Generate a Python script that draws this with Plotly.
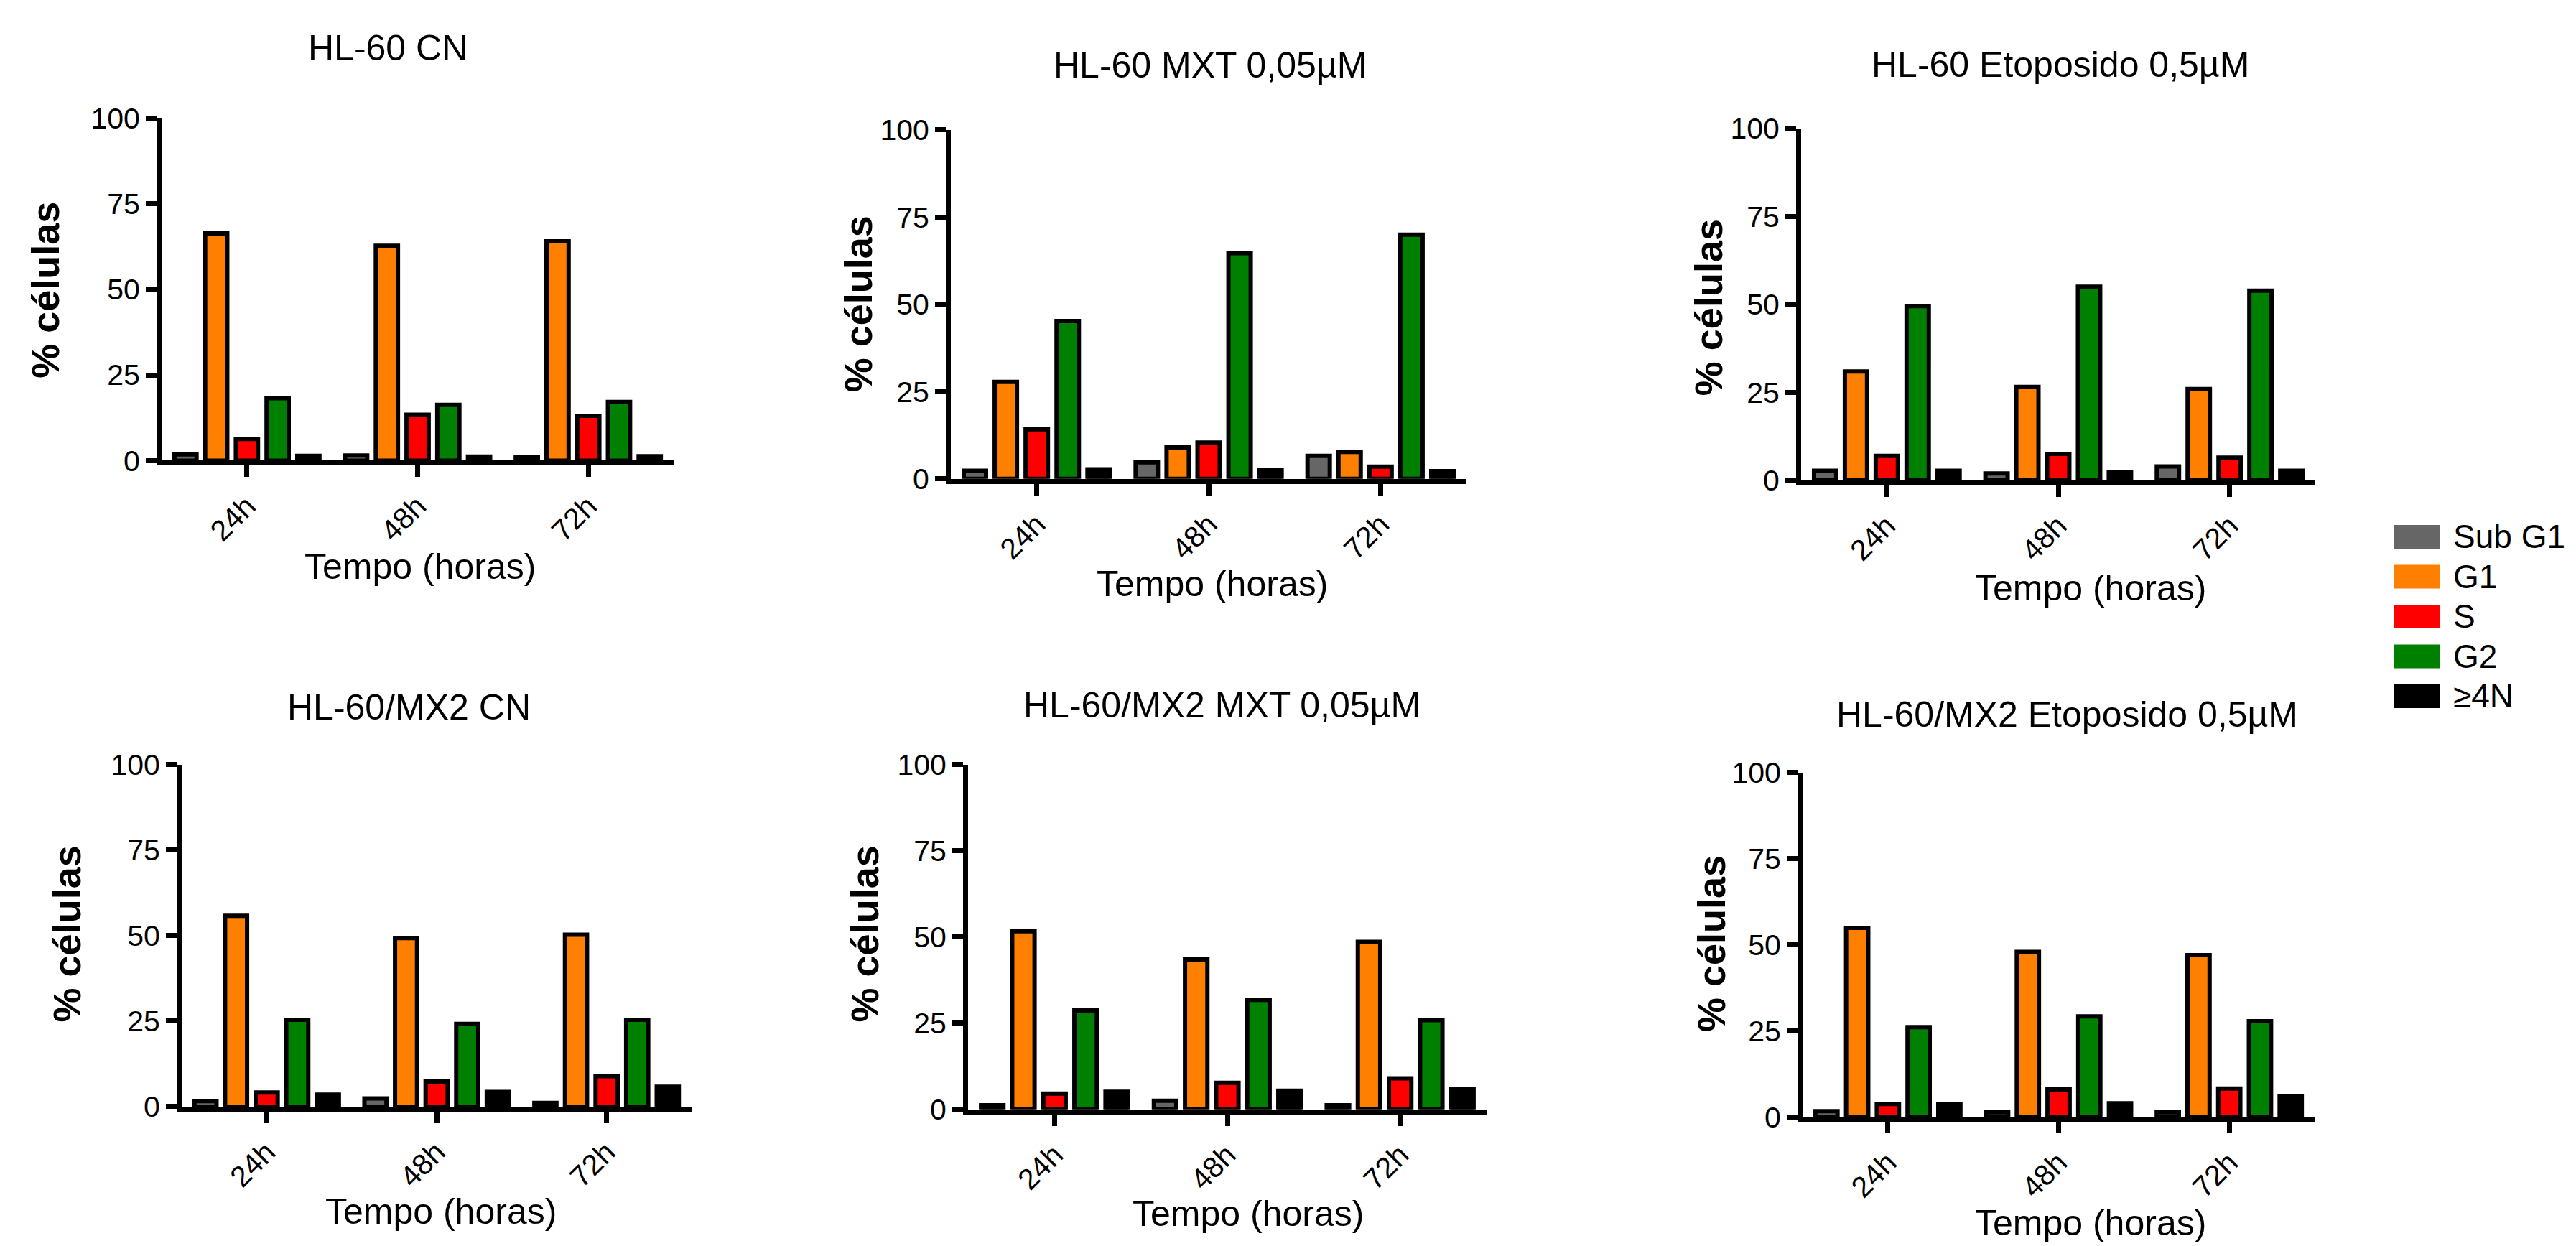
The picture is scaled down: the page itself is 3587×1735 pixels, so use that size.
import plotly.graph_objects as go

# ---------------- data ----------------
times = ["24h", "48h", "72h"]
phases = ["Sub G1", "G1", "S", "G2", "≥4N"]

# each list: rows = phases (Sub G1, G1, S, G2, ≥4N), cols = times (24h, 48h, 72h)
hl60_cn = [[1.8, 1.5, 1.0], [66.3, 62.7, 64.0], [6.3, 13.4, 13.1], [18.2, 16.3, 17.1], [1.4, 1.2, 1.3]]
hl60_mxt = [[2.3, 4.7, 6.6], [27.8, 9.0, 7.7], [14.2, 10.4, 3.5], [45.2, 64.7, 70.0], [2.7, 2.5, 2.2]]
hl60_eto = [[2.7, 1.9, 3.9], [30.9, 26.5, 25.9], [6.9, 7.5, 6.4], [49.5, 55.0, 53.9], [2.7, 2.2, 2.7]]
mx2_cn = [[1.6, 2.4, 1.1], [55.8, 49.3, 50.3], [4.1, 7.3, 8.9], [25.4, 24.2, 25.4], [3.5, 4.3, 5.8]]
mx2_mxt = [[1.2, 2.5, 1.2], [51.7, 43.5, 48.6], [4.6, 7.7, 9.0], [28.7, 31.8, 25.9], [5.1, 5.4, 5.9]]
mx2_eto = [[1.7, 1.4, 1.4], [54.9, 47.9, 47.0], [3.8, 8.0, 8.3], [26.1, 29.2, 27.8], [3.8, 4.0, 6.1]]

titles = ["HL-60 CN", "HL-60 MXT 0,05µM", "HL-60 Etoposido 0,5µM",
          "HL-60/MX2 CN", "HL-60/MX2 MXT 0,05µM", "HL-60/MX2 Etoposido 0,5µM"]
datasets = [hl60_cn, hl60_mxt, hl60_eto, mx2_cn, mx2_mxt, mx2_eto]
y_ticks = [0, 25, 50, 75, 100]
x_title = "Tempo (horas)"
y_title = "% células"

# ---------------- style / layout ----------------
W, H = 3587, 1735
colors = ["#666666", "#FF8000", "#FF0000", "#008000", "#000000"]
FONT = "Liberation Sans, Arial, Helvetica, sans-serif"

# plot boxes in pixels: x0, x1, ytop(100), ybottom(0)
boxes = [(217, 930, 137, 627), (1316, 2034, 154, 653), (2500, 3216, 152, 655),
         (245, 955, 1062, 1551), (1340, 2062, 1062, 1555), (2502, 3215, 1073, 1566)]
title_pos = [(532, 37), (1677, 62), (2861, 61), (561, 980), (1693, 977), (2870, 990)]
xtitle_pos = [(577, 779), (1680, 803), (2903, 809), (606, 1701), (1730, 1704), (2903, 1718)]
ytitle_pos = [(55, 383), (1187, 403), (2371, 408), (85, 1304), (1196, 1304), (2375, 1318)]


def px(x):
    return x / W


def py(y):
    return 1 - y / H


fig = go.Figure()
annotations = []
shapes = []
layout_axes = {}

for i, (data, title) in enumerate(zip(datasets, titles)):
    n = i + 1
    xref = "x" if n == 1 else f"x{n}"
    yref = "y" if n == 1 else f"y{n}"
    for s, phase in enumerate(phases):
        fig.add_trace(go.Bar(
            x=times, y=data[s], name=phase,
            marker=dict(color=colors[s], line=dict(color="black", width=6)),
            xaxis=xref, yaxis=yref, showlegend=False,
        ))
    x0, x1, yt, yb = boxes[i]
    xa = "xaxis" if n == 1 else f"xaxis{n}"
    ya = "yaxis" if n == 1 else f"yaxis{n}"
    layout_axes[xa] = dict(
        domain=[px(x0), px(x1)], anchor=yref, type="category", range=[-0.5, 2.5],
        showline=True, linecolor="black", linewidth=7,
        ticks="outside", ticklen=16, tickwidth=7, tickcolor="black",
        tickangle=-45, tickfont=dict(size=41, color="black", family=FONT),
        showgrid=False, zeroline=False,
    )
    layout_axes[ya] = dict(
        domain=[py(yb), py(yt)], anchor=xref, range=[0, 100],
        tickvals=y_ticks, ticktext=[str(v) for v in y_ticks],
        showline=True, linecolor="black", linewidth=7,
        ticks="outside", ticklen=15, tickwidth=7, tickcolor="black",
        tickfont=dict(size=41, color="black", family=FONT),
        showgrid=False, zeroline=False,
    )
    tx, ty = title_pos[i]
    annotations.append(dict(text=title, x=px(tx), y=py(ty), xref="paper", yref="paper",
                            xanchor="center", yanchor="middle", showarrow=False,
                            font=dict(size=50, color="black", family=FONT)))
    ax_, ay_ = xtitle_pos[i]
    annotations.append(dict(text=x_title, x=px(ax_), y=py(ay_), xref="paper", yref="paper",
                            xanchor="center", yanchor="middle", showarrow=False,
                            font=dict(size=50, color="black", family=FONT)))
    bx, by = ytitle_pos[i]
    annotations.append(dict(text=f"<b>{y_title}</b>", x=px(bx), y=py(by), xref="paper", yref="paper",
                            xanchor="center", yanchor="middle", showarrow=False, textangle=-90,
                            font=dict(size=54, color="black", family=FONT)))

# custom legend (coloured rectangles + labels)
leg_x0, leg_x1 = 3325, 3390
leg_y0, leg_pitch, leg_h = 719, 57, 34
for s, phase in enumerate(phases):
    top = leg_y0 + s * leg_pitch
    shapes.append(dict(type="rect", xref="paper", yref="paper",
                       x0=px(leg_x0), x1=px(leg_x1), y0=py(top + leg_h), y1=py(top),
                       fillcolor=colors[s], line=dict(width=0)))
    annotations.append(dict(text=phase, x=px(3406), y=py(top + leg_h / 2), xref="paper", yref="paper",
                            xanchor="left", yanchor="middle", showarrow=False,
                            font=dict(size=46, color="black", family=FONT)))

fig.update_layout(
    width=W, height=H,
    margin=dict(l=0, r=0, t=0, b=0),
    paper_bgcolor="white", plot_bgcolor="white",
    barmode="group", bargap=0.1, bargroupgap=0.28,
    annotations=annotations, shapes=shapes,
    font=dict(family=FONT, color="black"),
    **layout_axes,
)

fig.write_html("out.html")
